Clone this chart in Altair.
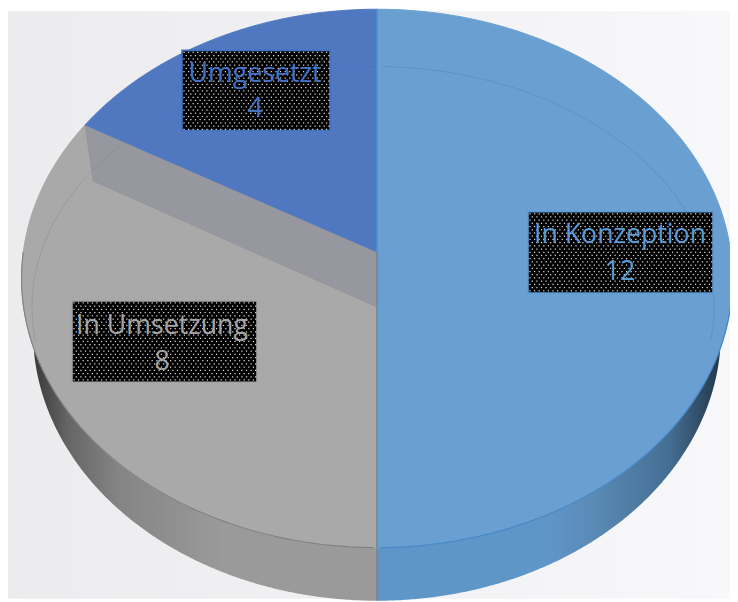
import numpy as np
import pandas as pd
import altair as alt

categories = ["In Konzeption", "In Umsetzung", "Umgesetzt"]
values = [12, 8, 4]
face_colors = ["#69a0d1", "#a9a9a9", "#4f78c1"]
text_colors = ["#5b9bd5", "#a5a5a5", "#4472c4"]

X0, Y0, A, B, K = 377.0, 252.0, 353.7, 265.9, 0.0987
WALL = 55.0
LOW_CY, LOW_RX, LOW_RY = 331.5, 344.0, 268.5


def project(theta_deg):
    t = np.radians(np.asarray(theta_deg, dtype=float))
    u, v = np.sin(t), np.cos(t)
    w = 1 + K * v
    return X0 + A * u / w, Y0 - B * v / w


total = sum(values)
sweep = [v / total * 360 for v in values]
edges = np.cumsum([0] + sweep)
xs = alt.Scale(domain=[8, 730])
ys = alt.Scale(domain=[598, 12])


def enc(mark, df):
    return alt.Chart(df).mark_line(**mark).encode(
        x=alt.X("x:Q", scale=xs, axis=None),
        y=alt.Y("y:Q", scale=ys, axis=None),
        order=alt.Order("i:Q"),
    )


def sector(a0, a1, color):
    th = np.linspace(a0, a1, 180)
    x, y = project(th)
    x = np.r_[X0, x, X0]
    y = np.r_[Y0, y, Y0]
    df = pd.DataFrame({"x": x, "y": y, "i": np.arange(len(x))})
    return enc(dict(fill=color, stroke=color, strokeWidth=1), df)


def wall(a0, a1, stops):
    th = np.linspace(a0, a1, 260)
    xt, yt = project(th)
    dx = np.abs(xt - X0) / LOW_RX
    inside = dx < 1
    xt, yt, dx = xt[inside], yt[inside], dx[inside]
    low = LOW_CY + LOW_RY * np.sqrt(1 - dx ** 2)
    keep = low > yt
    df = pd.DataFrame({"x": xt[keep], "y": yt[keep], "yb": low[keep]})
    return alt.Chart(df).mark_area(
        fill=alt.Gradient(gradient="linear", x1=0, x2=1, y1=0, y2=0, stops=stops),
        orient="vertical",
    ).encode(
        x=alt.X("x:Q", scale=xs, axis=None),
        y=alt.Y("y:Q", scale=ys, axis=None),
        y2=alt.Y2("yb:Q"),
    )


bg = alt.Chart(pd.DataFrame({"a": [8], "b": [730], "c": [12], "d": [598]})).mark_rect(
    color=alt.Gradient(
        gradient="linear", x1=0, x2=1, y1=0, y2=0,
        stops=[alt.GradientStop(color="#ececee", offset=0),
               alt.GradientStop(color="#f1f1f3", offset=0.5),
               alt.GradientStop(color="#f8f7f9", offset=1)],
    )
).encode(
    x=alt.X("a:Q", scale=xs, axis=None), x2="b:Q",
    y=alt.Y("c:Q", scale=ys, axis=None), y2="d:Q",
)

gray_wall = wall(180, 268, [
    alt.GradientStop(color="#3a3a3a", offset=0),
    alt.GradientStop(color="#666666", offset=0.1),
    alt.GradientStop(color="#858585", offset=0.25),
    alt.GradientStop(color="#9a9a9a", offset=0.55),
    alt.GradientStop(color="#9a9a9a", offset=1),
])
blue_wall = wall(92, 180, [
    alt.GradientStop(color="#5f96c8", offset=0),
    alt.GradientStop(color="#5f96c8", offset=0.5),
    alt.GradientStop(color="#5b8bb8", offset=0.62),
    alt.GradientStop(color="#456f94", offset=0.85),
    alt.GradientStop(color="#24384c", offset=1),
])

a_last = edges[2]
p0x, p0y = project(a_last)
inner_wall = pd.DataFrame({
    "x": [p0x, p0x + 8, X0, X0, p0x],
    "y": [p0y, p0y + 56, Y0 + WALL, Y0, p0y],
    "i": range(5),
})

th = np.linspace(-98, 98, 200)
ring_x = 373 + 341 * np.sin(np.radians(th))
ring_y = 307 - 240 * np.cos(np.radians(th))
ring = pd.DataFrame({"x": ring_x, "y": ring_y, "i": np.arange(200)})
ring_r = ring[ring.x >= X0]
ring_m = ring[ring.x < X0]

rim_th = np.linspace(90, 270, 200)
rim_x, rim_y = project(rim_th)
rim_df = pd.DataFrame({"x": rim_x, "y": rim_y, "i": np.arange(200)})

sep_top = pd.DataFrame({"x": [X0, X0], "y": [10, 252], "i": [0, 1]})
sep_low = pd.DataFrame({"x": [X0, X0], "y": [252, 600], "i": [0, 1]})

layers = [bg, gray_wall, blue_wall]
layers += [
    sector(edges[1], edges[2], face_colors[1]),
    enc(dict(fill="#97979f", stroke="#8f8f97", strokeWidth=0.6), inner_wall),
    sector(edges[2], edges[3], face_colors[2]),
    sector(edges[0], edges[1], face_colors[0]),
    enc(dict(stroke="#4f86bd", strokeWidth=1, opacity=0.5), ring_r),
    enc(dict(stroke="#7f7f7f", strokeWidth=1, opacity=0.35), ring_m[ring_m.x < 135]),
    enc(dict(stroke="#4a74bc", strokeWidth=1, opacity=0.8), ring_m[ring_m.x >= 135]),
    enc(dict(stroke="#4a88c6", strokeWidth=1.3), rim_df[rim_df.x >= X0]),
    enc(dict(stroke="#808080", strokeWidth=1.1), rim_df[rim_df.x <= X0]),
    enc(dict(stroke="#3f8ccb", strokeWidth=1.2), sep_top),
    enc(dict(stroke="#7a7a7a", strokeWidth=1.1), sep_low),
]

boxes = pd.DataFrame({
    "cat": categories,
    "x": [528, 72, 182], "x2": [713, 257, 330],
    "y": [212, 301, 51], "y2": [293, 382, 131],
    "tx": [620, 162, 255], "ty1": [235, 326, 75], "ty2": [272, 362, 110],
    "val": [str(v) for v in values],
})
color_scale = alt.Scale(domain=categories, range=text_colors)
layers.append(
    alt.Chart(boxes).mark_rect(fill="black", strokeWidth=1.6).encode(
        x=alt.X("x:Q", scale=xs, axis=None), x2="x2:Q",
        y=alt.Y("y:Q", scale=ys, axis=None), y2="y2:Q",
        stroke=alt.Color("cat:N", scale=color_scale, legend=None),
    )
)

dots = []
for _, b in boxes.iterrows():
    for r, yy in enumerate(np.arange(b.y + 2, b.y2 - 1, 3.2)):
        off = 0 if r % 2 == 0 else 2.3
        for xx in np.arange(b.x + 2 + off, b.x2 - 1, 4.6):
            dots.append((xx, yy))
dots = pd.DataFrame(dots, columns=["x", "y"])
layers.append(
    alt.Chart(dots).mark_square(size=1.6, color="#f0f0f0", opacity=0.9).encode(
        x=alt.X("x:Q", scale=xs, axis=None),
        y=alt.Y("y:Q", scale=ys, axis=None),
    )
)
for tf, yf in (("cat", "ty1"), ("val", "ty2")):
    layers.append(
        alt.Chart(boxes).mark_text(font="Open Sans", fontSize=27, align="center", baseline="middle").encode(
            x=alt.X("tx:Q", scale=xs, axis=None),
            y=alt.Y(f"{yf}:Q", scale=ys, axis=None),
            text=f"{tf}:N",
            color=alt.Color("cat:N", scale=color_scale, legend=None),
        )
    )

chart = alt.layer(*layers).properties(
    width=730, height=594, padding=0, autosize=alt.AutoSizeParams(type="none"),
).configure_view(stroke=None)
chart.save("out.html", embed_options={"renderer": "svg", "actions": False})
